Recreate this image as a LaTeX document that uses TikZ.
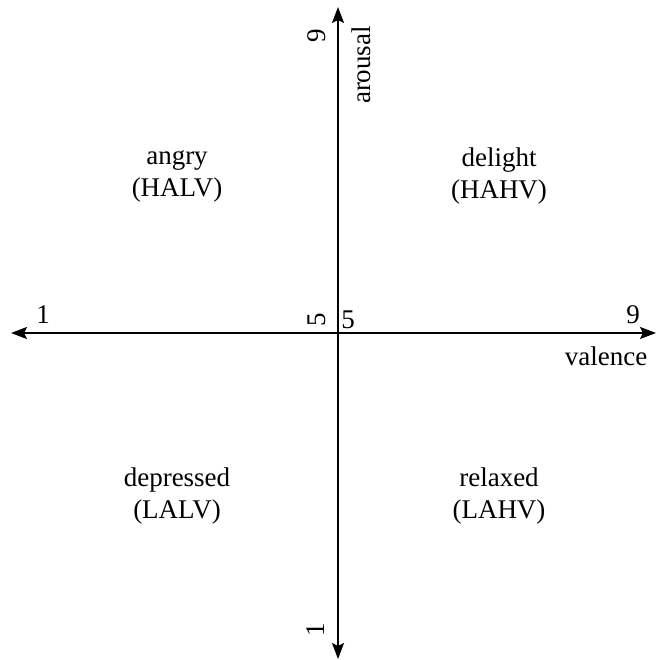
\documentclass[tikz,border=0pt]{standalone}
\usepackage{fontspec}
\setmainfont{Liberation Serif}
\usetikzlibrary{arrows.meta}
\begin{document}
\begin{tikzpicture}[x=1pt,y=-1pt,
  axis/.style={line width=2pt,{Stealth[length=16pt,width=12pt,inset=3pt]}-{Stealth[length=16pt,width=12pt,inset=3pt]}},
  lbl/.style={font=\fontsize{27}{32}\selectfont,inner sep=0pt},
  quad/.style={lbl,align=center}]
\useasboundingbox (0,0) rectangle (656,660);
\coordinate (L) at (11,333);
\coordinate (R) at (656,333);
\coordinate (T) at (338,7);
\coordinate (B) at (338,659);
\draw[axis] (L) -- (R);
\draw[axis] (T) -- (B);
\node[lbl,rotate=90] (ytop) at (317,36) {9};
\node[lbl,rotate=90] (ylab) at (361,65) {arousal};
\node[lbl,rotate=90] (ymid) at (317,320) {5};
\node[lbl,rotate=90] (ybot) at (316,630) {1};
\node[lbl] (xmid) at (348,320) {5};
\node[lbl] (xleft) at (43,315) {1};
\node[lbl] (xright) at (633,315) {9};
\node[lbl] (xlab) at (606,356) {valence};
\node[quad] (hl) at (177,176) {angry\\(HALV)};
\node[quad] (hh) at (499,176) {delight\\(HAHV)};
\node[quad] (ll) at (177,496) {depressed\\(LALV)};
\node[quad] (lh) at (499,496) {relaxed\\(LAHV)};
\end{tikzpicture}
\end{document}
